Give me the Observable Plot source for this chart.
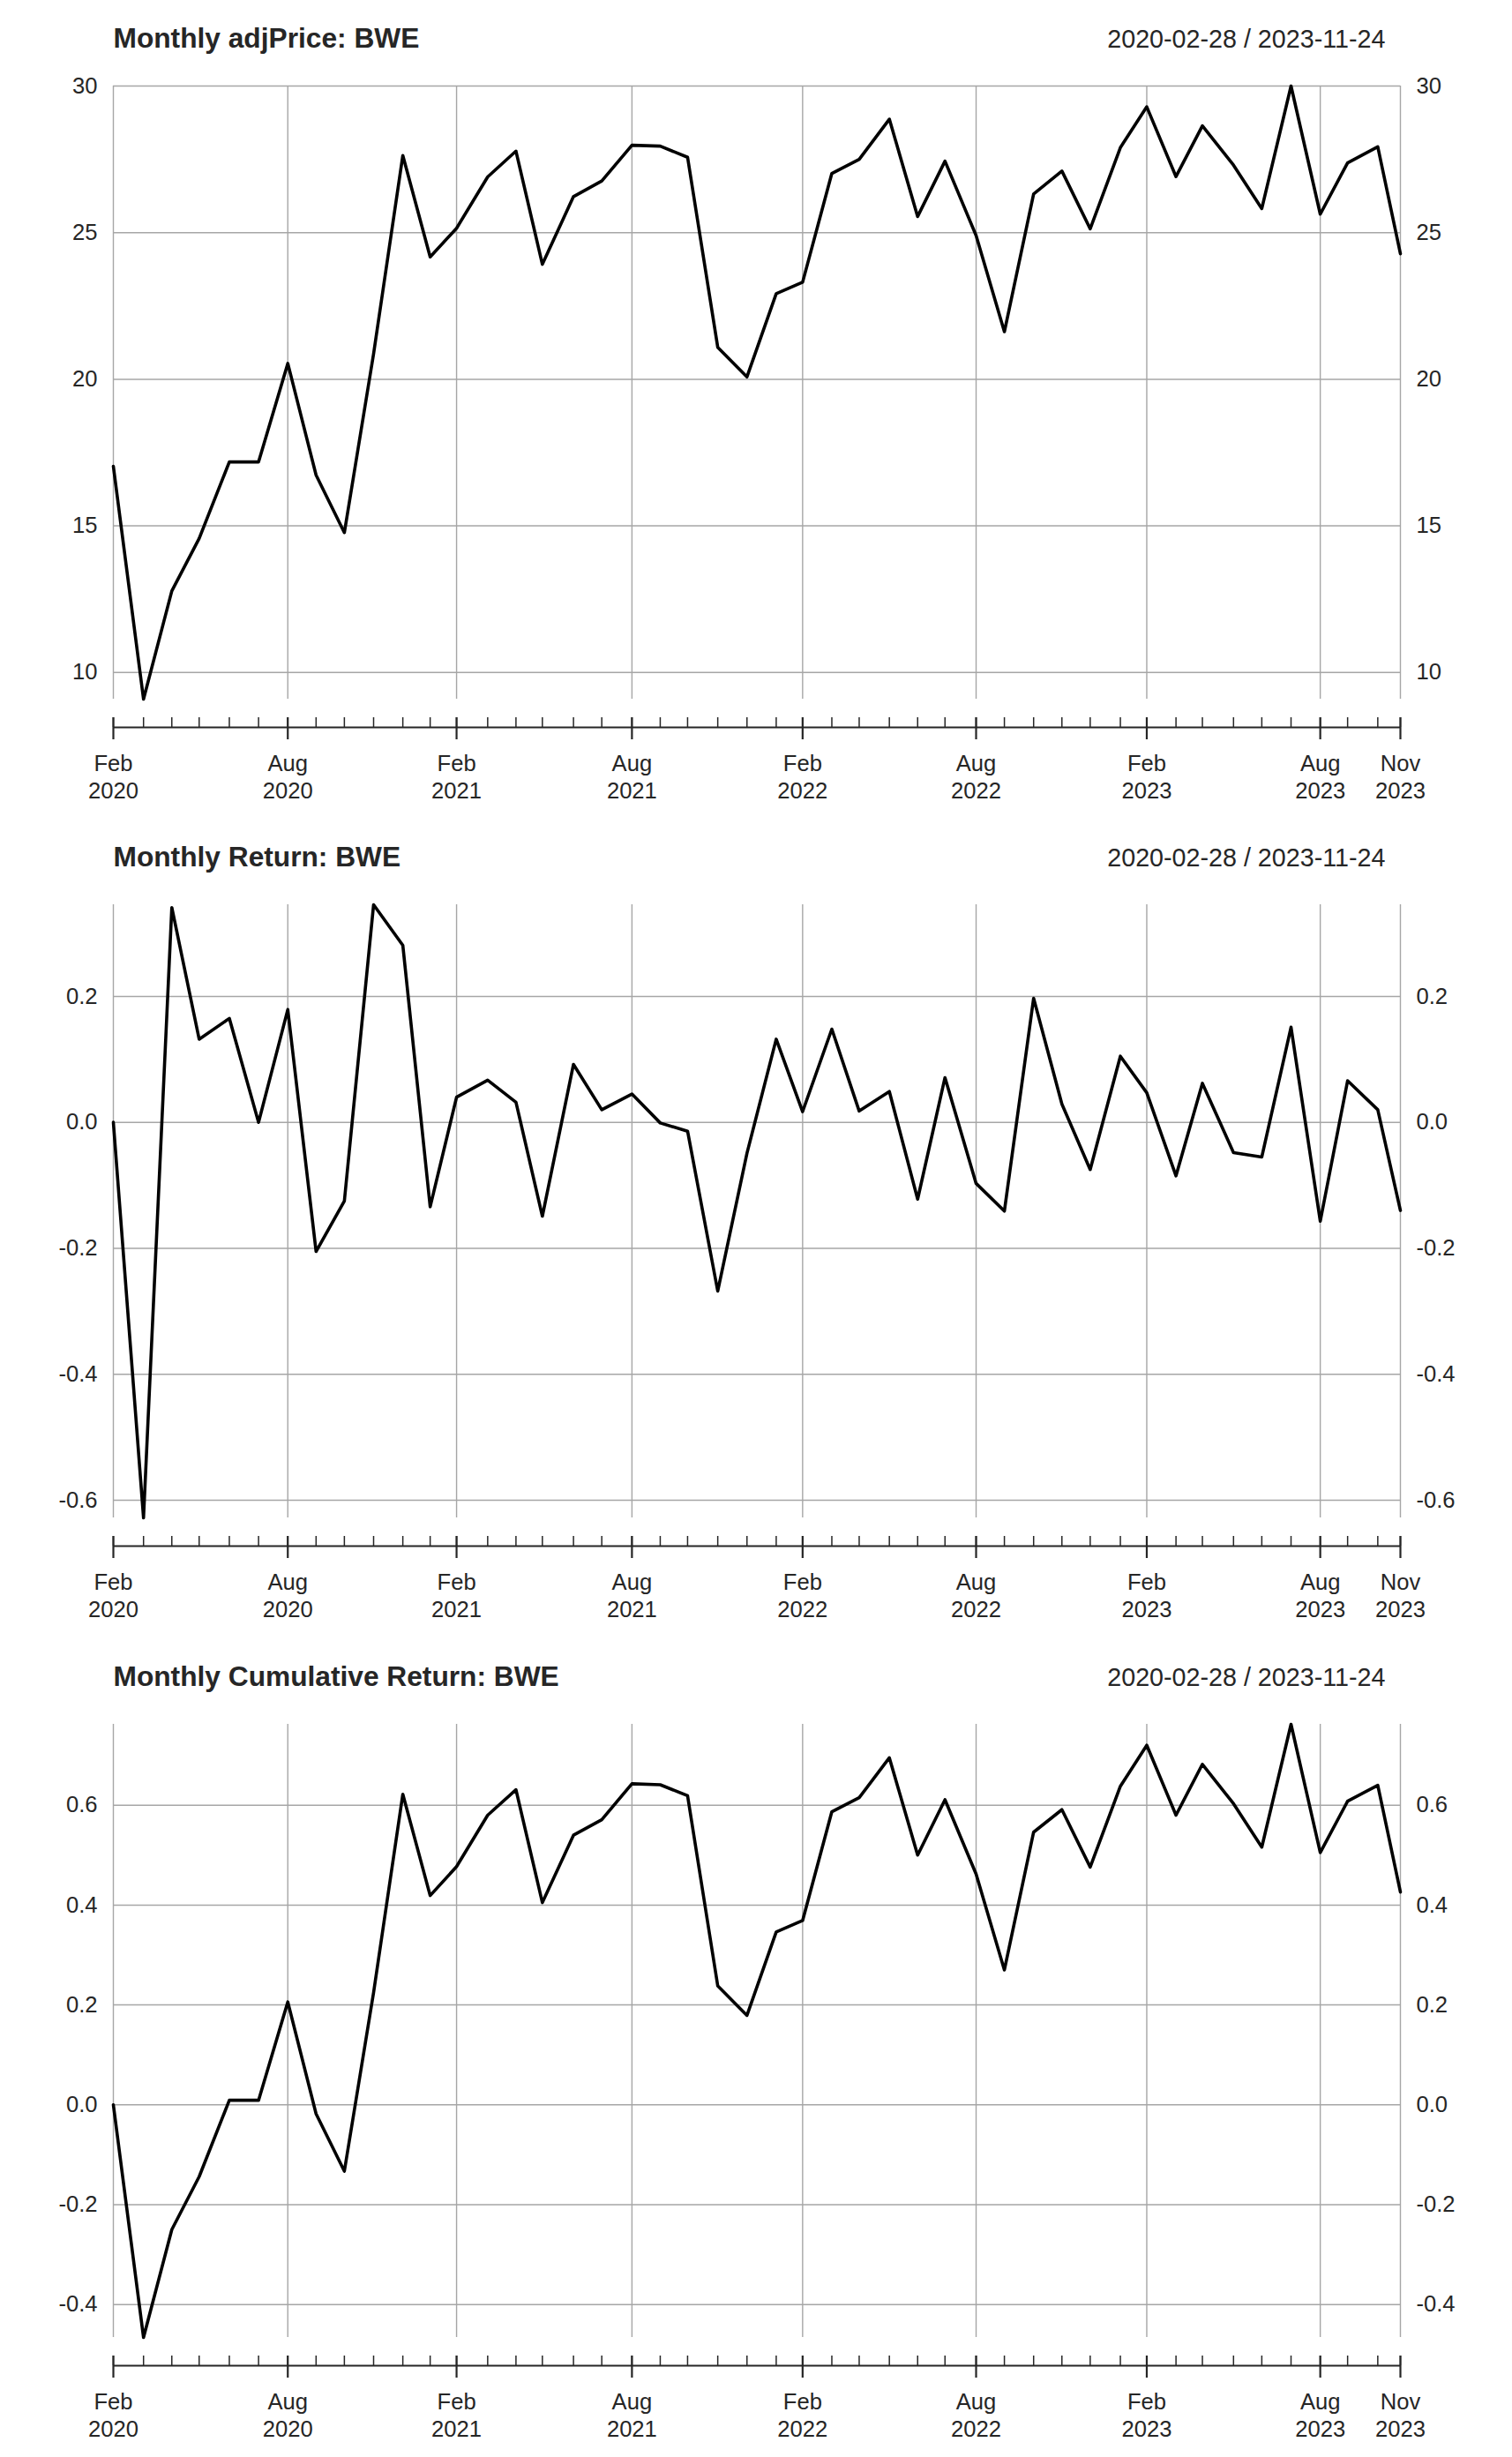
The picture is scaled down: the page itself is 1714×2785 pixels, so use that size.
<!DOCTYPE html>
<html>
<head>
<meta charset="utf-8">
<script src="https://cdn.jsdelivr.net/npm/d3@7"></script>
<script src="https://cdn.jsdelivr.net/npm/@observablehq/plot@0.6"></script>
<style>
  html, body { margin: 0; padding: 0; background: #ffffff; }
  #chart { width: 1714px; }
  #chart svg { display: block; }
</style>
</head>
<body>
<div id="chart"></div>
<script>
// ---- data ----
const symbol = "BWE";
const timespan = "2020-02-28 / 2023-11-24";

const dates = [
  "2020-02-28","2020-03-31","2020-04-30","2020-05-29","2020-06-30","2020-07-31",
  "2020-08-31","2020-09-30","2020-10-30","2020-11-30","2020-12-31","2021-01-29",
  "2021-02-26","2021-03-31","2021-04-30","2021-05-28","2021-06-30","2021-07-30",
  "2021-08-31","2021-09-30","2021-10-29","2021-11-30","2021-12-31","2022-01-31",
  "2022-02-28","2022-03-31","2022-04-29","2022-05-31","2022-06-30","2022-07-29",
  "2022-08-31","2022-09-30","2022-10-31","2022-11-30","2022-12-30","2023-01-31",
  "2023-02-28","2023-03-31","2023-04-28","2023-05-31","2023-06-30","2023-07-31",
  "2023-08-31","2023-09-29","2023-10-31","2023-11-24"
];

const adjPrice = [
  17.03, 9.09, 12.78, 14.57, 17.18, 17.18,
  20.54, 16.73, 14.77, 20.87, 27.63, 24.17,
  25.15, 26.90, 27.78, 23.92, 26.23, 26.76,
  27.98, 27.95, 27.57, 21.09, 20.08, 22.92,
  23.31, 27.02, 27.50, 28.87, 25.55, 27.44,
  24.90, 21.62, 26.32, 27.10, 25.13, 27.90,
  29.29, 26.91, 28.64, 27.30, 25.82, 30.00,
  25.63, 27.38, 27.93, 24.28
];

const monthlyReturn = [
  0.000, -0.628, 0.341, 0.132, 0.165, 0.000,
  0.179, -0.205, -0.125, 0.3455, 0.281, -0.134,
  0.040, 0.067, 0.032, -0.149, 0.092, 0.020,
  0.045, -0.001, -0.014, -0.268, -0.049, 0.132,
  0.017, 0.148, 0.018, 0.049, -0.122, 0.071,
  -0.097, -0.141, 0.197, 0.029, -0.075, 0.105,
  0.047, -0.085, 0.062, -0.048, -0.055, 0.151,
  -0.157, 0.066, 0.020, -0.140
];

const cumulativeReturn = [
  0.000, -0.466, -0.250, -0.144, 0.009, 0.009,
  0.206, -0.018, -0.133, 0.225, 0.622, 0.419,
  0.477, 0.580, 0.631, 0.405, 0.540, 0.571,
  0.643, 0.641, 0.619, 0.238, 0.179, 0.346,
  0.369, 0.587, 0.615, 0.695, 0.500, 0.611,
  0.462, 0.270, 0.546, 0.591, 0.476, 0.638,
  0.720, 0.580, 0.682, 0.603, 0.516, 0.762,
  0.505, 0.608, 0.640, 0.426
];

const majorTickDates = [
  "2020-02-28","2020-08-31","2021-02-26","2021-08-31","2022-02-28",
  "2022-08-31","2023-02-28","2023-08-31","2023-11-24"
];
const majorTickLabels = [
  "Feb\n2020","Aug\n2020","Feb\n2021","Aug\n2021","Feb\n2022",
  "Aug\n2022","Feb\n2023","Aug\n2023","Nov\n2023"
];

const priceTicks = [10, 15, 20, 25, 30];
const returnTicks = [-0.6, -0.4, -0.2, 0.0, 0.2];
const cumulativeTicks = [-0.4, -0.2, 0.0, 0.2, 0.4, 0.6];

// ---- drawing ----
const FONT = "'Liberation Sans', Arial, Helvetica, sans-serif";
const TEXT = "#262626";
const GRID = "#a6a6a6";
const AXIS = "#262626";
const parse = d3.utcParse("%Y-%m-%d");
const allDates = dates.map(parse);
const majors = majorTickDates.map(parse);
const majorLabelData = majors.map((d, i) => ({date: d, label: majorTickLabels[i]}));

function panel(title, values, yTicks, fmt, height) {
  const data = allDates.map((d, i) => ({date: d, value: values[i]}));
  const ext = d3.extent(values);
  const x0 = allDates[0], x1 = allDates[allDates.length - 1];
  const plotBottom = 792;
  return Plot.plot({
    width: 1714,
    height,
    marginLeft: 128,
    marginRight: 127,
    marginTop: 97,
    marginBottom: height - plotBottom,
    style: {fontFamily: FONT, background: "#ffffff", color: TEXT, overflow: "visible"},
    x: {type: "utc", domain: [x0, x1]},
    y: {domain: ext},
    marks: [
      Plot.gridY(yTicks, {stroke: GRID, strokeOpacity: 1, strokeWidth: 1.5}),
      Plot.gridX(majors, {stroke: GRID, strokeOpacity: 1, strokeWidth: 1.4}),
      Plot.axisY(yTicks, {anchor: "left", tickSize: 0, tickPadding: 18, tickFormat: fmt,
        fontSize: 25.6, fill: TEXT, label: null}),
      Plot.axisY(yTicks, {anchor: "right", tickSize: 0, tickPadding: 18, tickFormat: fmt,
        fontSize: 25.6, fill: TEXT, label: null}),
      Plot.line(data, {x: "date", y: "value", stroke: "#000000", strokeWidth: 3.6}),
      // time axis
      Plot.ruleY([{y: ext[0], a: x0, b: x1}], {y: "y", x1: "a", x2: "b", dy: 32, stroke: AXIS, strokeWidth: 2.2}),
      Plot.axisX(allDates, {anchor: "bottom", tickSize: -11, dy: 32, fill: "none", stroke: AXIS, strokeWidth: 1.5, label: null}),
      Plot.axisX(majors, {anchor: "bottom", tickSize: -11, dy: 32, fill: "none", stroke: AXIS, strokeWidth: 2.2, label: null}),
      Plot.axisX(majors, {anchor: "bottom", tickSize: 14, dy: 32, fill: "none", stroke: AXIS, strokeWidth: 2.2, label: null}),
      Plot.text(majorLabelData, {x: "date", text: "label", frameAnchor: "bottom", lineAnchor: "bottom",
        lineHeight: 1.2, dy: 112, fontSize: 25.6, fill: TEXT}),
      // headings
      Plot.text([title], {text: d => d, frameAnchor: "top-left", textAnchor: "start", lineAnchor: "bottom",
        dy: -44, fontSize: 31.7, fontWeight: "bold", fill: TEXT}),
      Plot.text([timespan], {text: d => d, frameAnchor: "top-right", textAnchor: "end", lineAnchor: "bottom",
        dx: -17, dy: -44, fontSize: 28.7, fill: TEXT})
    ]
  });
}

const fmtPrice = d => String(d);
const fmtDec = d => d.toFixed(1);

const chart = document.getElementById("chart");
chart.append(panel(`Monthly adjPrice: ${symbol}`, adjPrice, priceTicks, fmtPrice, 928));
chart.append(panel(`Monthly Return: ${symbol}`, monthlyReturn, returnTicks, fmtDec, 929));
chart.append(panel(`Monthly Cumulative Return: ${symbol}`, cumulativeReturn, cumulativeTicks, fmtDec, 928));
</script>
</body>
</html>
